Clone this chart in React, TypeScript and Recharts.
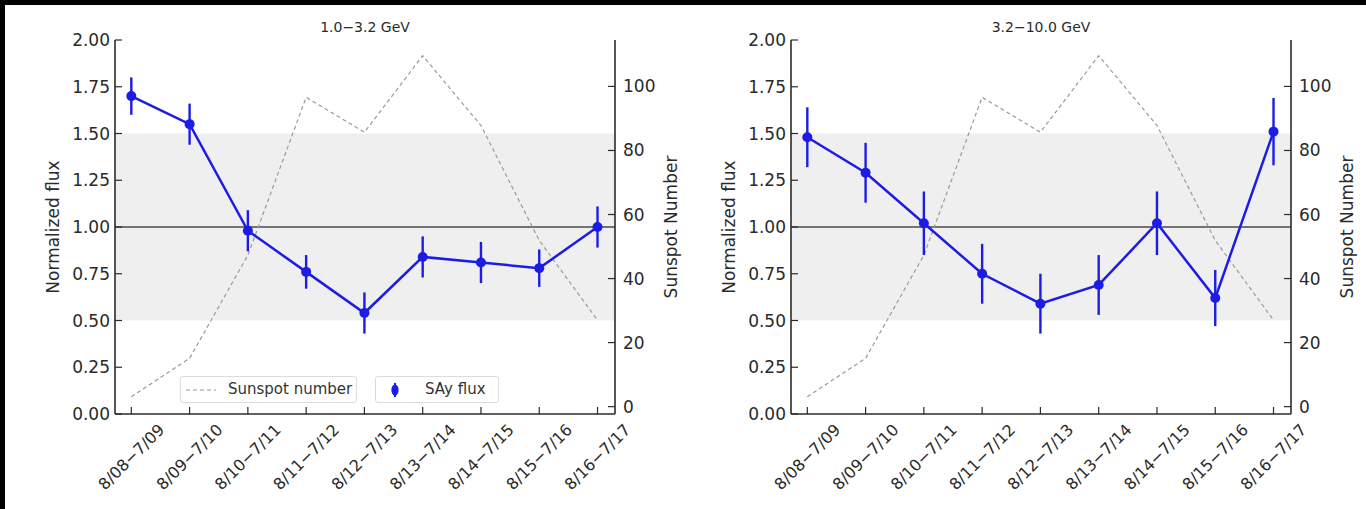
import { LineChart, Line, XAxis, YAxis, ReferenceArea, ReferenceLine, ErrorBar, Legend } from 'recharts';

// yearly windows (August to July)
const periods = ['8/08−7/09', '8/09−7/10', '8/10−7/11', '8/11−7/12', '8/12−7/13', '8/13−7/14', '8/14−7/15', '8/15−7/16', '8/16−7/17'];
const sunspots = [3.1, 15.1, 47.3, 96.6, 85.7, 109.6, 87.8, 51.9, 27.0];

// 1.0-3.2 GeV
const fluxLow = [1.7, 1.55, 0.98, 0.76, 0.54, 0.84, 0.81, 0.78, 1.0];
const errLow = [0.1, 0.11, 0.11, 0.09, 0.11, 0.11, 0.11, 0.1, 0.11];

// 3.2-10.0 GeV
const fluxHigh = [1.48, 1.29, 1.02, 0.75, 0.59, 0.69, 1.02, 0.62, 1.51];
const errHigh = [0.16, 0.16, 0.17, 0.16, 0.16, 0.16, 0.17, 0.15, 0.18];

const fluxTicks = [0, 0.25, 0.5, 0.75, 1, 1.25, 1.5, 1.75, 2];
const spotTicks = [0, 20, 40, 60, 80, 100];
const xTicks = periods.map((_, i) => i);

const W = 683;
const H = 509;
const TOP = 40;
const BOTTOM = 414;
const BLUE = '#1c1ce6';
const AXIS = '#2b2b2b';
const TEXT = '#2a2a2a';
const FONT = '"DejaVu Sans", sans-serif';

interface PanelProps {
  title: string;
  flux: number[];
  err: number[];
  left: number;
  plotLeft: number;
  plotRight: number;
  showLegend?: boolean;
}

function LegendBoxes() {
  const box = {
    position: 'absolute' as const,
    top: 0,
    height: 27,
    border: '1px solid #dcdcdc',
    borderRadius: 3,
    background: 'rgba(255,255,255,0.85)',
    boxSizing: 'border-box' as const,
    fontFamily: FONT,
    fontSize: 15,
    color: '#333',
  };
  return (
    <div style={{ position: 'relative', width: 320, height: 28 }}>
      <div style={{ ...box, left: 0, width: 177 }}>
        <svg width={40} height={27} style={{ position: 'absolute', left: 0, top: 0 }}>
          <line x1={5} x2={35} y1={13} y2={13} stroke="#999" strokeWidth={1.2} strokeDasharray="4 3" />
        </svg>
        <span style={{ position: 'absolute', left: 47, top: 3 }}>Sunspot number</span>
      </div>
      <div style={{ ...box, left: 195, width: 124 }}>
        <svg width={30} height={27} style={{ position: 'absolute', left: 0, top: 0 }}>
          <line x1={19} x2={19} y1={6} y2={20} stroke={BLUE} strokeWidth={2} />
          <ellipse cx={19} cy={13} rx={3.6} ry={5.5} fill={BLUE} />
        </svg>
        <span style={{ position: 'absolute', left: 49, top: 3 }}>SAy flux</span>
      </div>
    </div>
  );
}

function Panel({ title, flux, err, left, plotLeft, plotRight, showLegend }: PanelProps) {
  const data = periods.map((p, i) => ({ i, period: p, flux: flux[i], err: err[i], spot: sunspots[i] }));

  const fluxTick = (props: any) => (
    <g>
      <line x1={plotLeft} x2={plotLeft + 7} y1={props.y} y2={props.y} stroke={AXIS} strokeWidth={1.2} />
      <text x={plotLeft - 5} y={props.y} textAnchor="end" dominantBaseline="central" fontSize={17} fill={TEXT} fontFamily={FONT}>
        {Number(props.payload.value).toFixed(2)}
      </text>
    </g>
  );

  const spotTick = (props: any) => (
    <g>
      <line x1={plotRight - 7} x2={plotRight} y1={props.y} y2={props.y} stroke={AXIS} strokeWidth={1.2} />
      <text x={plotRight + 8} y={props.y} textAnchor="start" dominantBaseline="central" fontSize={17} fill={TEXT} fontFamily={FONT}>
        {props.payload.value}
      </text>
    </g>
  );

  const bottomTick = (props: any) => {
    const cy = 457;
    return (
      <g>
        <line x1={props.x} x2={props.x} y1={BOTTOM} y2={BOTTOM - 7} stroke={AXIS} strokeWidth={1.2} />
        <text
          x={props.x}
          y={cy}
          textAnchor="middle"
          dominantBaseline="central"
          fontSize={16}
          fill={TEXT}
          fontFamily={FONT}
          transform={`rotate(-45, ${props.x}, ${cy})`}
        >
          {periods[props.payload.value]}
        </text>
      </g>
    );
  };

  const topTick = (props: any) => (
    <line x1={props.x} x2={props.x} y1={TOP} y2={TOP + 7} stroke={AXIS} strokeWidth={1.2} />
  );

  const midY = (TOP + BOTTOM) / 2;
  const fluxLabel = () => {
    const x = plotLeft - 62;
    return (
      <text x={x} y={midY} textAnchor="middle" dominantBaseline="central" fontSize={17} fill={TEXT} fontFamily={FONT} transform={`rotate(-90, ${x}, ${midY})`}>
        Normalized flux
      </text>
    );
  };
  const spotLabel = () => {
    const x = plotRight + 56;
    return (
      <text x={x} y={midY} textAnchor="middle" dominantBaseline="central" fontSize={17} fill={TEXT} fontFamily={FONT} transform={`rotate(-90, ${x}, ${midY})`}>
        Sunspot Number
      </text>
    );
  };

  return (
    <div style={{ position: 'absolute', left, top: 0, width: W, height: H }}>
      <div
        style={{
          position: 'absolute',
          left: plotLeft,
          width: plotRight - plotLeft,
          top: 18,
          textAlign: 'center',
          fontFamily: FONT,
          fontSize: 14,
          lineHeight: '18px',
          color: TEXT,
        }}
      >
        {title}
      </div>
      <LineChart width={W} height={H} data={data} margin={{ top: TOP, left: 5, right: 8, bottom: 5 }}>
        <XAxis
          xAxisId="b"
          dataKey="i"
          type="number"
          domain={[-0.28, 8.3]}
          ticks={xTicks}
          interval={0}
          height={H - 5 - BOTTOM}
          tickLine={false}
          axisLine={{ stroke: AXIS, strokeWidth: 1.6 }}
          tick={bottomTick}
        />
        <XAxis
          xAxisId="t"
          orientation="top"
          dataKey="i"
          type="number"
          domain={[-0.28, 8.3]}
          ticks={xTicks}
          interval={0}
          height={0}
          tickLine={false}
          axisLine={{ stroke: AXIS, strokeWidth: 1.6 }}
          tick={topTick}
        />
        <YAxis
          yAxisId="f"
          domain={[0, 2]}
          ticks={fluxTicks}
          interval={0}
          width={plotLeft - 5}
          tickLine={false}
          axisLine={{ stroke: AXIS, strokeWidth: 1.6 }}
          tick={fluxTick}
          label={fluxLabel}
        />
        <YAxis
          yAxisId="s"
          orientation="right"
          domain={[-2.3, 114.5]}
          ticks={spotTicks}
          interval={0}
          width={W - 8 - plotRight}
          allowDataOverflow
          tickLine={false}
          axisLine={{ stroke: AXIS, strokeWidth: 1.6 }}
          tick={spotTick}
          label={spotLabel}
        />
        <ReferenceArea xAxisId="b" yAxisId="f" y1={0.5} y2={1.5} fill="#efefef" fillOpacity={1} stroke="none" />
        <ReferenceLine xAxisId="b" yAxisId="f" y={1} stroke="#4a4a4a" strokeWidth={1.6} />
        <Line
          xAxisId="b"
          yAxisId="s"
          dataKey="spot"
          stroke="#9a9a9a"
          strokeWidth={1.2}
          strokeDasharray="4 3"
          dot={false}
          isAnimationActive={false}
        />
        <Line
          xAxisId="b"
          yAxisId="f"
          dataKey="flux"
          stroke={BLUE}
          strokeWidth={2.5}
          dot={{ r: 5, fill: BLUE, stroke: BLUE, strokeWidth: 0 }}
          isAnimationActive={false}
        >
          <ErrorBar dataKey="err" direction="y" width={0} stroke={BLUE} strokeWidth={2.4} />
        </Line>
        {showLegend && (
          <Legend
            layout="horizontal"
            verticalAlign="middle"
            align="center"
            wrapperStyle={{ left: 180, top: 376, width: 320, height: 28 }}
            content={() => <LegendBoxes />}
          />
        )}
      </LineChart>
    </div>
  );
}

export default function App() {
  return (
    <div style={{ position: 'fixed', left: 0, top: 0, width: 1366, height: 509, background: '#000', overflow: 'hidden' }}>
      <div style={{ position: 'absolute', left: 5, top: 5, right: 0, bottom: 0, background: '#fff' }} />
      <Panel title="1.0−3.2 GeV" flux={fluxLow} err={errLow} left={0} plotLeft={115} plotRight={615} showLegend />
      <Panel title="3.2−10.0 GeV" flux={fluxHigh} err={errHigh} left={683} plotLeft={108} plotRight={608} />
    </div>
  );
}
